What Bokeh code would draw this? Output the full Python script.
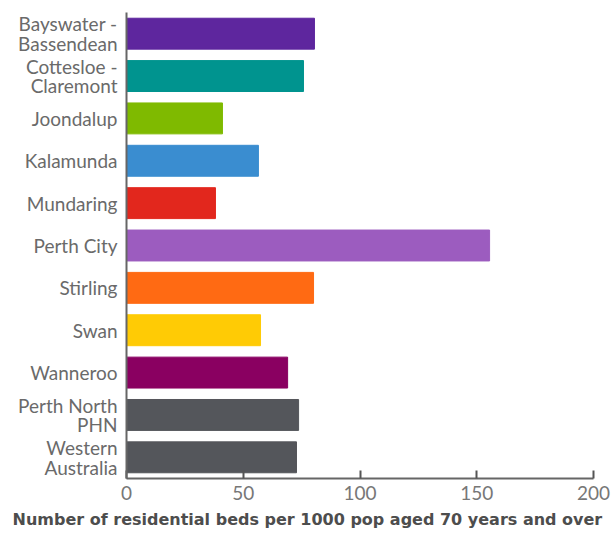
from bokeh.plotting import figure
from bokeh.models import ColumnDataSource, FactorRange, Range1d, Title, FixedTicker
from bokeh.embed import file_html
from bokeh.resources import INLINE

regions = ["Bayswater -\nBassendean", "Cottesloe -\nClaremont", "Joondalup", "Kalamunda",
           "Mundaring", "Perth City", "Stirling", "Swan", "Wanneroo",
           "Perth North\nPHN", "Western\nAustralia"]
beds = [80.5, 75.8, 41.1, 56.5, 38.1, 155.5, 80.1, 57.4, 69.0, 73.7, 72.8]
colors = ["#5E269E", "#00948F", "#7FBA00", "#3A8DD0", "#E2271D", "#9C5CBF",
          "#FF6A13", "#FFCB05", "#8A0061", "#54565B", "#54565B"]
x_ticks = [0, 50, 100, 150, 200]
x_title = "Number of residential beds per 1000 pop aged 70 years and over"

FONT = "Lato"

src = ColumnDataSource(dict(region=regions, beds=beds, color=colors))

p = figure(width=611, height=534, output_backend="svg", toolbar_location=None,
           y_range=FactorRange(factors=list(reversed(regions)), range_padding=0),
           x_range=Range1d(0, 200),
           min_border_left=126, min_border_right=18, min_border_top=12, min_border_bottom=0)
p.hbar(y="region", right="beds", left=0, height=0.73, color="color", source=src)

p.outline_line_color = None
p.grid.visible = False
p.background_fill_color = "white"

xa = p.xaxis[0]
xa.ticker = FixedTicker(ticks=x_ticks)
xa.major_tick_in = 8
xa.major_tick_out = 0
xa.minor_tick_line_color = None
xa.axis_line_color = "#666666"
xa.axis_line_width = 2
xa.major_tick_line_color = "#555555"
xa.major_tick_line_width = 2
xa.major_label_text_font = FONT
xa.major_label_text_font_size = "19px"
xa.major_label_text_color = "#777777"
xa.major_label_standoff = 7

ya = p.yaxis[0]
ya.major_tick_line_color = None
ya.minor_tick_line_color = None
ya.axis_line_color = "#666666"
ya.axis_line_width = 2
ya.major_label_text_font = FONT
ya.major_label_text_font_size = "19px"
ya.major_label_text_color = "#6a6a6a"
ya.major_label_text_line_height = 0.85
ya.major_label_standoff = 3

title = Title(text=x_title, align="left", offset=-114, standoff=11,
              text_font="DejaVu Sans", text_font_size="16px", text_font_style="bold",
              text_color="#4d4d4d")
p.add_layout(title, "below")

open("out.html", "w").write(file_html(p, INLINE))
